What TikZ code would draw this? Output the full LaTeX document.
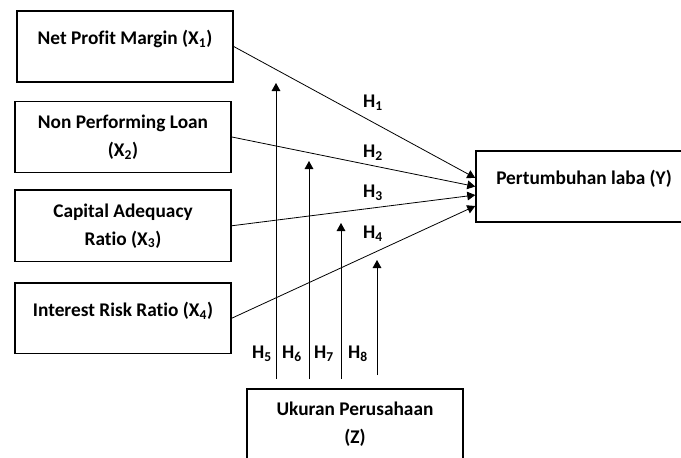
\documentclass[tikz,border=0pt]{standalone}
\usepackage{fontspec}
\setmainfont{Carlito}[Ligatures=NoCommon]
\usetikzlibrary{arrows.meta}
\usetikzlibrary{positioning}

\begin{document}
\begin{tikzpicture}[x=0.75pt, y=-0.75pt, >={Triangle[length=6pt,width=6.5pt]},
    font=\fontsize{14.5}{21}\selectfont\bfseries]
    \tikzstyle{var}=[draw, line width=1.1pt, minimum width=162pt, inner sep=0pt, align=center]
    \tikzstyle{onebox}=[var, text height=25pt, text depth=28pt]
    \tikzstyle{twobox}=[var, minimum height=53.5pt]
    \tikzstyle{link}=[->, line width=0.6pt]
    \tikzstyle{hyp}=[inner sep=0pt]
    \clip (0,0) rectangle (681,457);
    % variables
    \node[onebox]   (x1) at (125,46.5)        {Net Profit Margin (X\textsubscript{1})};
    \node[twobox]   (x2) [below=13.5pt of x1, xshift=-1.5pt] {Non Performing Loan\\(X\textsubscript{2})};
    \node[twobox]   (x3) [below=12pt of x2]   {Capital Adequacy\\Ratio (X\textsubscript{3})};
    \node[onebox]   (x4) [below=15pt of x3]   {Interest Risk Ratio (X\textsubscript{4})};
    \node[onebox]   (y)  at (584,186.5)       {Pertumbuhan laba (Y)};
    \node[twobox]   (z)  at (355,424.5)       {Ukuran Perusahaan\\(Z)};
    % direct effects
    \draw[link] (x1.east) -- ([yshift=6.4pt]y.west);
    \draw[link] (x2.east) -- (y.west);
    \draw[link] (x3.east) -- ([yshift=-6.4pt]y.west);
    \draw[link] (x4.east) -- ([yshift=-14.6pt]y.west);
    \node[hyp] (h1) at (373,103) {H\textsubscript{1}};
    \node[hyp] (h2) at (373,153) {H\textsubscript{2}};
    \node[hyp] (h3) at (373,193) {H\textsubscript{3}};
    \node[hyp] (h4) at (373,234) {H\textsubscript{4}};
    % moderation
    \coordinate (b5) at (276,379); \coordinate (t5) at (276,83);
    \coordinate (b6) at (309,379); \coordinate (t6) at (309,161);
    \coordinate (b7) at (341,379); \coordinate (t7) at (341,223);
    \coordinate (b8) at (377,375); \coordinate (t8) at (377,260);
    \draw[link] (b5) -- (t5);
    \draw[link] (b6) -- (t6);
    \draw[link] (b7) -- (t7);
    \draw[link] (b8) -- (t8);
    \node[hyp] (h5) at (262,354) {H\textsubscript{5}};
    \node[hyp] (h6) at (292,354) {H\textsubscript{6}};
    \node[hyp] (h7) at (324,354) {H\textsubscript{7}};
    \node[hyp] (h8) at (358,354) {H\textsubscript{8}};
  \end{tikzpicture}
\end{document}
